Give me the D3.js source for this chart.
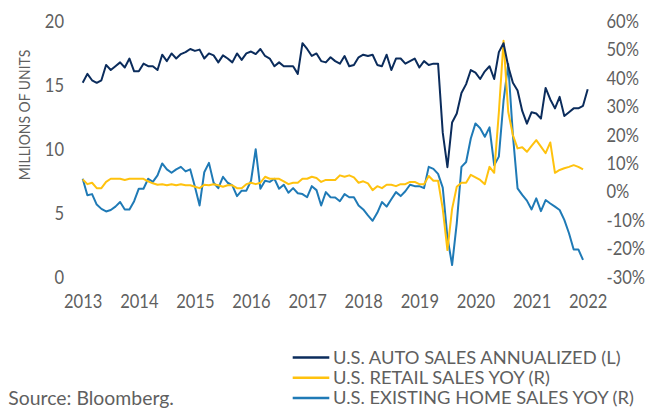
<!DOCTYPE html>
<html>
<head>
<meta charset="utf-8">
<script src="https://cdn.jsdelivr.net/npm/d3@7"></script>
<style>
  html, body { margin: 0; padding: 0; background: #fff; }
  svg { display: block; font-family: Lato, "Open Sans", sans-serif; }
  .tick text { fill: #5f5f5f; font-size: 19px; }
</style>
</head>
<body>
<svg id="chart" width="650" height="408"></svg>
<script>
// monthly data, first point is Oct 2013
const yearLabels = ["2013", "2014", "2015", "2016", "2017", "2018", "2019", "2020", "2021", "2022"];
const leftTicks = [0, 5, 10, 15, 20];
const rightTicks = [-30, -20, -10, 0, 10, 20, 30, 40, 50, 60];

// U.S. auto sales annualized, millions of units (left axis)
const autoSales = [
  15.2, 15.9, 15.4, 15.2, 15.4, 16.6, 16.2, 16.5, 16.8, 16.4, 17.1, 16.1, 16.1, 16.7, 16.5, 16.5,
  16.2, 17.4, 16.9, 17.5, 17.1, 17.45, 17.6, 17.85, 17.7, 17.8, 17.1, 17.5, 17.35, 16.8, 17.35, 17.1,
  16.8, 17.5, 17.0, 17.5, 17.65, 17.45, 17.85, 17.3, 17.1, 16.5, 16.8, 16.5, 16.5, 16.5, 15.9, 18.3,
  17.85, 17.3, 17.5, 16.9, 16.8, 17.2, 16.9, 16.7, 17.3, 16.5, 16.6, 17.2, 17.4, 17.3, 17.4, 16.6,
  16.5, 17.4, 16.2, 17.1, 17.1, 16.7, 16.9, 17.1, 16.4, 16.9, 16.6, 16.7, 16.7, 11.3, 8.6, 12.1,
  12.8, 14.4, 15.1, 16.2, 16.0, 15.5, 16.1, 16.5, 15.5, 17.6, 18.3, 16.5, 15.2, 14.6, 13.0, 12.0,
  12.9, 12.8, 12.4, 14.8, 13.9, 13.2, 14.1, 12.6, 12.9, 13.2, 13.2, 13.4, 14.7
];

// U.S. retail sales YoY, % (right axis)
const retailYoy = [
  4.4, 2.7, 3.2, 1.3, 1.3, 3.5, 4.6, 4.6, 4.6, 4.2, 4.6, 4.6, 4.6, 4.6, 3.7, 3.0,
  2.5, 2.7, 2.3, 2.7, 2.3, 2.7, 2.3, 2.3, 1.8, 1.3, 2.5, 2.3, 2.7, 2.3, 1.8, 2.3,
  2.3, 1.3, 1.3, 2.7, 3.2, 2.7, 3.2, 5.3, 4.6, 4.6, 4.6, 3.7, 2.7, 3.2, 3.2, 4.6,
  4.6, 5.3, 4.9, 3.5, 4.2, 4.2, 4.2, 5.8, 5.3, 5.8, 5.1, 3.2, 3.7, 3.0, 0.6, 2.0,
  1.3, 2.5, 2.5, 2.0, 2.7, 2.7, 3.5, 3.5, 2.7, 2.7, 5.6, 3.9, 3.9, -6.0, -20.5, -6.0,
  1.8, 3.2, 3.2, 6.0, 5.1, 4.2, 2.7, 8.8, 6.7, 28.0, 53.2, 28.2, 20.0, 15.3, 15.7, 14.1,
  16.2, 18.2, 15.9, 13.6, 17.4, 6.7, 7.7, 8.3, 8.8, 9.4, 8.8, 7.9
];

// U.S. existing home sales YoY, % (right axis)
const homeYoy = [
  4.6, -1.2, -0.8, -4.5, -6.0, -6.9, -6.4, -5.2, -3.6, -6.2, -6.2, -3.3, 1.1, 1.1, 4.6, 3.5,
  5.8, 10.0, 7.9, 6.7, 7.9, 8.8, 7.2, 7.9, 1.8, -4.8, 6.9, 10.2, 3.2, 1.3, 5.3, 3.2,
  2.3, -1.5, 0.4, 0.4, 3.9, 15.0, 1.1, 3.9, 3.5, 4.6, 1.1, 2.5, -0.3, 1.3, -0.5, -0.8,
  -1.9, 2.0, 0.6, -4.8, -0.1, -1.9, -2.0, -3.3, -0.8, -1.9, -1.9, -4.8, -6.2, -8.3, -10.2, -7.4,
  -3.6, -5.2, -2.6, -0.1, -1.5, 0.2, 2.5, 2.0, 2.0, 1.3, 8.8, 8.1, 6.3, 1.5, -16.0, -25.8,
  -11.0, 8.8, 10.5, 18.8, 24.1, 22.4, 19.4, 22.7, 9.4, 12.4, 32.0, 45.0, 20.0, 1.2, -1.1, -3.1,
  -6.2, -2.3, -6.8, -2.9, -4.1, -5.2, -6.4, -9.9, -14.6, -20.3, -20.3, -24.0
];

const seriesNames = [
  "U.S. AUTO SALES ANNUALIZED (L)",
  "U.S. RETAIL SALES YOY (R)",
  "U.S. EXISTING HOME SALES YOY (R)"
];
const seriesColors = ["#0b2c5c", "#ffc20e", "#1f7ab6"];

const svg = d3.select("#chart");

// the reference text is narrower than Lato, squeeze it a bit
function condense(sel, f) {
  sel.each(function() {
    const w = this.getComputedTextLength();
    d3.select(this).attr("textLength", w * f).attr("lengthAdjust", "spacingAndGlyphs");
  });
}

const x = d3.scaleLinear().domain([0, 108]).range([82.7, 587.7]);
const yL = d3.scaleLinear().domain([0, 20]).range([277, 21.5]);
const yR = d3.scaleLinear().domain([-30, 60]).range([277, 21.5]);

// axes, no lines, labels only
const gx = svg.append("g")
  .attr("transform", "translate(0,294)")
  .call(d3.axisBottom(x)
    .tickValues(d3.range(0, 109, 12))
    .tickFormat((d, i) => yearLabels[i])
    .tickSize(0).tickPadding(0));

const gl = svg.append("g")
  .attr("transform", "translate(64,0)")
  .call(d3.axisLeft(yL).tickValues(leftTicks).tickSize(0).tickPadding(0));

const gr = svg.append("g")
  .attr("transform", "translate(606.5,0)")
  .call(d3.axisRight(yR).tickValues(rightTicks).tickFormat(d => d + "%").tickSize(0).tickPadding(0));

[gx, gl, gr].forEach(g => {
  g.select(".domain").remove();
  g.attr("font-family", null).attr("font-size", null);
  condense(g.selectAll("text"), 0.87);
});

svg.append("text")
  .attr("transform", "translate(30,115) rotate(-90)")
  .attr("text-anchor", "middle")
  .attr("fill", "#5f5f5f")
  .attr("font-size", 16)
  .text("MILLIONS OF UNITS")
  .call(condense, 0.87);

// lines
const lineL = d3.line().x((d, i) => x(i)).y(d => yL(d));
const lineR = d3.line().x((d, i) => x(i)).y(d => yR(d));

svg.append("path").datum(homeYoy)
  .attr("fill", "none").attr("stroke", seriesColors[2]).attr("stroke-width", 2)
  .attr("stroke-linejoin", "round").attr("d", lineR);

svg.append("path").datum(retailYoy)
  .attr("fill", "none").attr("stroke", seriesColors[1]).attr("stroke-width", 2)
  .attr("stroke-linejoin", "round").attr("d", lineR);

svg.append("path").datum(autoSales)
  .attr("fill", "none").attr("stroke", seriesColors[0]).attr("stroke-width", 2)
  .attr("stroke-linejoin", "round").attr("d", lineL);

// legend
const legend = svg.append("g").attr("transform", "translate(292.7,0)");
const rows = legend.selectAll("g").data(seriesNames).enter().append("g")
  .attr("transform", (d, i) => `translate(0,${363.5 + i * 20.3})`);
rows.append("line")
  .attr("x1", 0).attr("x2", 36.6).attr("y1", -6).attr("y2", -6)
  .attr("stroke", (d, i) => seriesColors[i]).attr("stroke-width", 2.5);
rows.append("text")
  .attr("x", 40.3)
  .attr("fill", "#5f5f5f").attr("font-size", 18)
  .text(d => d)
  .call(condense, 1.02);

svg.append("text")
  .attr("x", 8.3).attr("y", 405)
  .attr("fill", "#5f5f5f").attr("font-size", 20)
  .text("Source: Bloomberg.")
  .call(condense, 0.97);
</script>
</body>
</html>
